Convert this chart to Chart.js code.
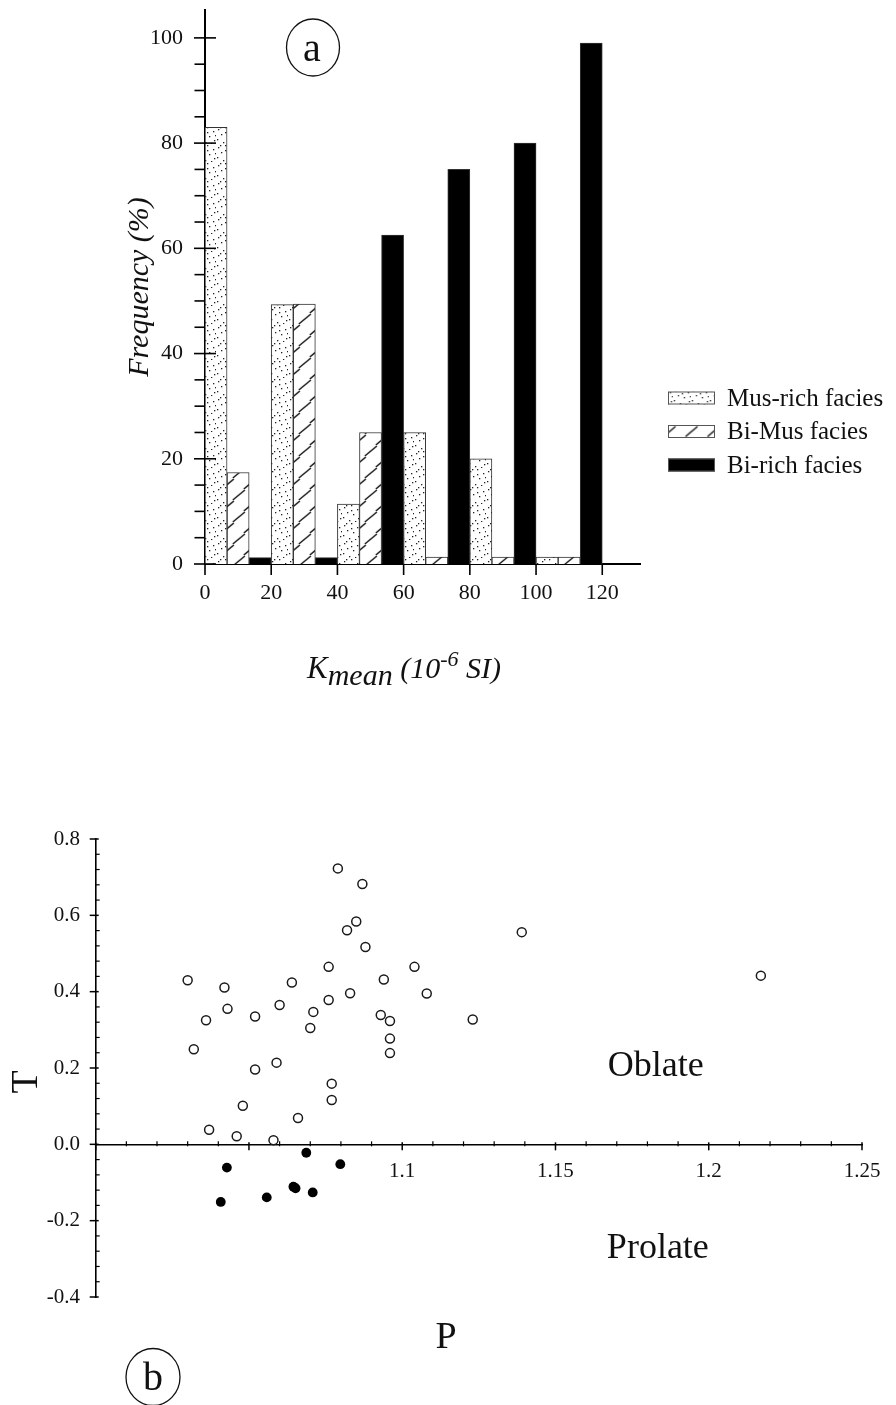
<!DOCTYPE html>
<html><head><meta charset="utf-8">
<script src="https://cdn.jsdelivr.net/npm/chart.js@4.4.1/dist/chart.umd.min.js"></script>
<style>
html,body{margin:0;padding:0;background:#fff;}
#wrap{position:relative;width:896px;height:1405px;overflow:hidden;background:#fff;}
#c1{position:absolute;left:0;top:0;}
#c2{position:absolute;left:0;top:780px;}
</style></head><body>
<div id="wrap"><canvas id="c1" width="896" height="780"></canvas><canvas id="c2" width="896" height="625"></canvas></div>
<script>
// ---------- (a) histogram data ----------
const faciesLabels = ['Mus-rich facies', 'Bi-Mus facies', 'Bi-rich facies'];
const kBinStarts = [0, 20, 40, 60, 80, 100];
const kBinWidth = 20;
const musRich = [83, 49.3, 11.4, 25, 20, 1.3];
const biMus   = [17.4, 49.4, 25, 1.3, 1.3, 1.3];
const biRich  = [1.2, 1.2, 62.5, 75, 80, 99];
const kTicks = [0, 20, 40, 60, 80, 100, 120];
const freqTicks = [0, 20, 40, 60, 80, 100];
const freqMinorStep = 5;

// ---------- (b) P-T scatter data ----------
const openP = [1.030, 1.032, 1.036, 1.037, 1.042, 1.043, 1.046, 1.048, 1.052, 1.052,
               1.058, 1.059, 1.060, 1.064, 1.066, 1.070, 1.071, 1.076, 1.076, 1.077,
               1.077, 1.079, 1.082, 1.083, 1.085, 1.087, 1.088, 1.093, 1.094, 1.096,
               1.096, 1.096, 1.104, 1.108, 1.123, 1.139, 1.217];
const openT = [0.430, 0.249, 0.325, 0.038, 0.411, 0.355, 0.021, 0.101, 0.335, 0.196,
               0.011, 0.214, 0.365, 0.424, 0.069, 0.305, 0.347, 0.465, 0.378, 0.159,
               0.116, 0.723, 0.561, 0.396, 0.584, 0.682, 0.517, 0.339, 0.432, 0.323,
               0.277, 0.239, 0.465, 0.395, 0.327, 0.556, 0.442];
const filledP = [1.0428, 1.0687, 1.0798, 1.0408, 1.0558, 1.0645, 1.0652, 1.0708];
const filledT = [-0.061, -0.022, -0.052, -0.151, -0.139, -0.111, -0.115, -0.126];
const pTicks = [1.0, 1.05, 1.1, 1.15, 1.2, 1.25];
const pTickLabels = ['', '', '1.1', '1.15', '1.2', '1.25'];
const pMinorStep = 0.01;
const tTicks = [-0.4, -0.2, 0.0, 0.2, 0.4, 0.6, 0.8];
const tTickLabels = ['-0.4', '-0.2', '0.0', '0.2', '0.4', '0.6', '0.8'];
const tMinorStep = 0.04;

// ---------- helpers ----------
const SERIF = '"Liberation Serif", "Times New Roman", serif';
Chart.defaults.font.family = SERIF;
Chart.defaults.color = '#111';

function stepTicks(min, max, step) {
  const n = Math.round((max - min) / step), out = [];
  for (let i = 0; i <= n; i++) out.push(+(min + i * step).toFixed(6));
  return out;
}
function labelFor(list, labels, v) {
  const i = list.findIndex(m => Math.abs(m - v) < 1e-6);
  return i >= 0 ? labels[i] : '';
}
function dotPattern(ctx) {
  const c = document.createElement('canvas'); c.width = 18; c.height = 18;
  const g = c.getContext('2d');
  g.fillStyle = '#fff'; g.fillRect(0, 0, 18, 18);
  g.fillStyle = '#222';
  [[2,3],[9,1],[15,5],[5,8],[11,10],[1,13],[16,14],[7,16],[13,17],[4,1],[17,9],[9,6]]
    .forEach(([x, y]) => g.fillRect(x, y, 1.3, 1.3));
  return ctx.createPattern(c, 'repeat');
}
function hatchPattern(ctx) {
  const s = 22;
  const c = document.createElement('canvas'); c.width = s; c.height = s;
  const g = c.getContext('2d');
  g.fillStyle = '#fff'; g.fillRect(0, 0, s, s);
  g.strokeStyle = '#111'; g.lineWidth = 1.4;
  const seg = (cx, cy) => { g.beginPath(); g.moveTo(cx - 6, cy + 5); g.lineTo(cx + 6, cy - 5); g.stroke(); };
  seg(11, 11); seg(0, 0); seg(s, 0); seg(0, s); seg(s, s);
  const p = ctx.createPattern(c, 'repeat');
  p.setTransform(new DOMMatrix([1, 0, 0, 1, 7.8, 0]));
  return p;
}
function tickMarkPlugin(specs) {
  return {
    id: 'tickMarks',
    afterDraw(chart) {
      const ctx = chart.ctx;
      ctx.save(); ctx.strokeStyle = '#000';
      specs.forEach(spec => {
        const sc = chart.scales[spec.scale];
        const base = spec.base(chart);
        sc.ticks.forEach(t => {
          const isMajor = spec.majors.some(m => Math.abs(m - t.value) < 1e-6);
          const [a, b] = isMajor ? spec.major : spec.minor;
          if (a === b) return;
          const p = sc.getPixelForValue(t.value);
          ctx.lineWidth = isMajor ? spec.majorWidth : spec.minorWidth;
          ctx.beginPath();
          if (sc.axis === 'x') { ctx.moveTo(p, base + a); ctx.lineTo(p, base + b); }
          else { ctx.moveTo(base + a, p); ctx.lineTo(base + b, p); }
          ctx.stroke();
        });
      });
      ctx.restore();
    }
  };
}

// ---------- chart (a) ----------
const ctx1 = document.getElementById('c1').getContext('2d');
const fills = [dotPattern(ctx1), hatchPattern(ctx1), '#000'];
const series = [musRich, biMus, biRich];
const barX = k => kBinStarts.map(s => s + kBinWidth * (2 * k + 1) / 6);

const annotA = {
  id: 'annotA',
  afterDraw(chart) {
    const ctx = chart.ctx;
    ctx.save();
    // circled "a"
    ctx.strokeStyle = '#111'; ctx.lineWidth = 1.3;
    ctx.beginPath(); ctx.ellipse(313, 47.5, 26.5, 28.5, 0, 0, Math.PI * 2); ctx.stroke();
    ctx.fillStyle = '#111'; ctx.textAlign = 'center'; ctx.textBaseline = 'alphabetic';
    ctx.font = '40px ' + SERIF; ctx.fillText('a', 312, 61);
    // legend
    ctx.textAlign = 'left'; ctx.textBaseline = 'middle';
    chart.data.datasets.forEach((ds, i) => {
      const y = 398 + i * 33.5;
      ctx.save();
      ctx.translate(672.7, y - 11);
      ctx.fillStyle = ds.backgroundColor;
      ctx.fillRect(-4.7, 4.5, 47, 13);
      ctx.strokeStyle = '#555'; ctx.lineWidth = 1;
      ctx.strokeRect(-4.2, 5, 46, 12);
      ctx.restore();
      ctx.fillStyle = '#111'; ctx.font = '25px ' + SERIF;
      ctx.fillText(ds.label, 727, y + 1);
    });
    // x-axis title  K_mean (10^-6 SI)
    const parts = [
      {t: 'K', size: 31, dy: 0},
      {t: 'mean', size: 30, dy: 7},
      {t: ' (10', size: 30, dy: 0},
      {t: '-6', size: 22, dy: -12},
      {t: ' SI)', size: 30, dy: 0}
    ];
    ctx.textBaseline = 'alphabetic';
    let x = 307;
    parts.forEach(p => {
      ctx.font = 'italic ' + p.size + 'px ' + SERIF;
      ctx.fillText(p.t, x, 678 + p.dy);
      x += ctx.measureText(p.t).width;
    });
    ctx.restore();
  }
};

new Chart(ctx1, {
  type: 'bar',
  data: {
    datasets: series.map((vals, k) => ({
      label: faciesLabels[k],
      data: vals.map((v, i) => ({x: barX(k)[i], y: v})),
      backgroundColor: fills[k],
      borderColor: '#333',
      borderWidth: 1,
      grouped: false,
      categoryPercentage: 1,
      barPercentage: 1
    }))
  },
  options: {
    responsive: false, animation: false, devicePixelRatio: 1,
    layout: {padding: {left: 0, top: 10, right: 256, bottom: 0}},
    plugins: {legend: {display: false}, tooltip: {enabled: false}},
    scales: {
      x: {
        type: 'linear', min: 0, max: 131.4, offset: false,
        grid: {display: false, drawTicks: false, offset: false},
        border: {display: true, color: '#000', width: 2},
        afterBuildTicks: s => { s.ticks = kTicks.map(v => ({value: v})); },
        afterFit: s => { s.height = 216; s.paddingLeft = 0; s.paddingRight = 0; },
        ticks: {autoSkip: false, maxRotation: 0, padding: 16, color: '#111',
                font: {family: SERIF, size: 22}, callback: v => String(v)}
      },
      y: {
        type: 'linear', min: 0, max: 105.3,
        grid: {display: false, drawTicks: false},
        border: {display: true, color: '#000', width: 2},
        afterBuildTicks: s => { s.ticks = stepTicks(0, 100, freqMinorStep).map(v => ({value: v})); },
        afterFit: s => { s.width = 205; s.paddingTop = 0; s.paddingBottom = 0; },
        ticks: {autoSkip: false, padding: 22, color: '#111', font: {family: SERIF, size: 22},
                callback: v => freqTicks.includes(v) ? String(v) : ''},
        title: {display: true, text: 'Frequency (%)', color: '#111',
                font: {family: SERIF, size: 30, style: 'italic'}, padding: {top: 122, bottom: 0}}
      }
    }
  },
  plugins: [tickMarkPlugin([
    {scale: 'y', majors: freqTicks, base: c => c.chartArea.left, major: [-11, 11], minor: [-10.5, 0], majorWidth: 1.6, minorWidth: 1.6},
    {scale: 'x', majors: kTicks, base: c => c.chartArea.bottom, major: [0, 11], minor: [0, 0], majorWidth: 1.6, minorWidth: 1.6}
  ]), annotA]
});

// ---------- chart (b) ----------
const ctx2 = document.getElementById('c2').getContext('2d');
const annotB = {
  id: 'annotB',
  afterDraw(chart) {
    const ctx = chart.ctx, xs = chart.scales.x, ys = chart.scales.y;
    ctx.save();
    ctx.fillStyle = '#111'; ctx.textAlign = 'center'; ctx.textBaseline = 'alphabetic';
    ctx.font = '36px ' + SERIF;
    ctx.fillText('Oblate', xs.getPixelForValue(1.1827), ys.getPixelForValue(0.178));
    ctx.fillText('Prolate', xs.getPixelForValue(1.1834), ys.getPixelForValue(-0.297));
    // axis titles
    ctx.font = '38px ' + SERIF;
    ctx.fillText('P', 446, 568);
    ctx.save(); ctx.translate(37, 302); ctx.rotate(-Math.PI / 2);
    ctx.fillText('T', 0, 0); ctx.restore();
    // circled "b"
    ctx.strokeStyle = '#111'; ctx.lineWidth = 1.3;
    ctx.beginPath(); ctx.ellipse(153, 597, 27, 28.5, 0, 0, Math.PI * 2); ctx.stroke();
    ctx.font = '40px ' + SERIF; ctx.fillText('b', 153, 610);
    ctx.restore();
  }
};

new Chart(ctx2, {
  type: 'scatter',
  data: {
    datasets: [
      {label: 'open', data: openP.map((p, i) => ({x: p, y: openT[i]})),
       pointStyle: 'circle', pointRadius: 4.5, pointBorderWidth: 1.5,
       pointBorderColor: '#1a1a1a', pointBackgroundColor: '#fff', borderColor: '#1a1a1a', backgroundColor: '#fff'},
      {label: 'filled', data: filledP.map((p, i) => ({x: p, y: filledT[i]})),
       pointStyle: 'circle', pointRadius: 4.9, pointBorderWidth: 0,
       pointBorderColor: '#000', pointBackgroundColor: '#000', borderColor: '#000', backgroundColor: '#000'}
    ]
  },
  options: {
    responsive: false, animation: false, devicePixelRatio: 1,
    layout: {padding: {left: 0, top: 59, right: 34, bottom: 108}},
    plugins: {legend: {display: false}, tooltip: {enabled: false}},
    scales: {
      x: {
        type: 'linear', position: {y: 0}, min: 1.0, max: 1.25,
        grid: {display: false, drawTicks: false},
        border: {display: true, color: '#000', width: 1.6},
        afterBuildTicks: s => { s.ticks = stepTicks(1.0, 1.25, pMinorStep).map(v => ({value: v})); },
        afterFit: s => { s.height = 0; s.paddingLeft = 0; s.paddingRight = 0; },
        ticks: {autoSkip: false, maxRotation: 0, padding: 15, color: '#111',
                font: {family: SERIF, size: 21}, callback: v => labelFor(pTicks, pTickLabels, v)}
      },
      y: {
        type: 'linear', position: 'left', min: -0.4, max: 0.8,
        grid: {display: false, drawTicks: false},
        border: {display: true, color: '#000', width: 1.6},
        afterBuildTicks: s => { s.ticks = stepTicks(-0.4, 0.8, tMinorStep).map(v => ({value: v})); },
        afterFit: s => { s.width = 95.7; s.paddingTop = 0; s.paddingBottom = 0; },
        ticks: {autoSkip: false, padding: 15.7, color: '#111',
                font: {family: SERIF, size: 21}, callback: v => labelFor(tTicks, tTickLabels, v)}
      }
    }
  },
  plugins: [tickMarkPlugin([
    {scale: 'y', majors: tTicks, base: c => c.chartArea.left, major: [-6, 3], minor: [0, 4], majorWidth: 1.5, minorWidth: 1.2},
    {scale: 'x', majors: pTicks, base: c => c.scales.y.getPixelForValue(0), major: [-2, 6], minor: [-3, 2], majorWidth: 1.5, minorWidth: 1.2}
  ]), annotB]
});
</script>
</body></html>
